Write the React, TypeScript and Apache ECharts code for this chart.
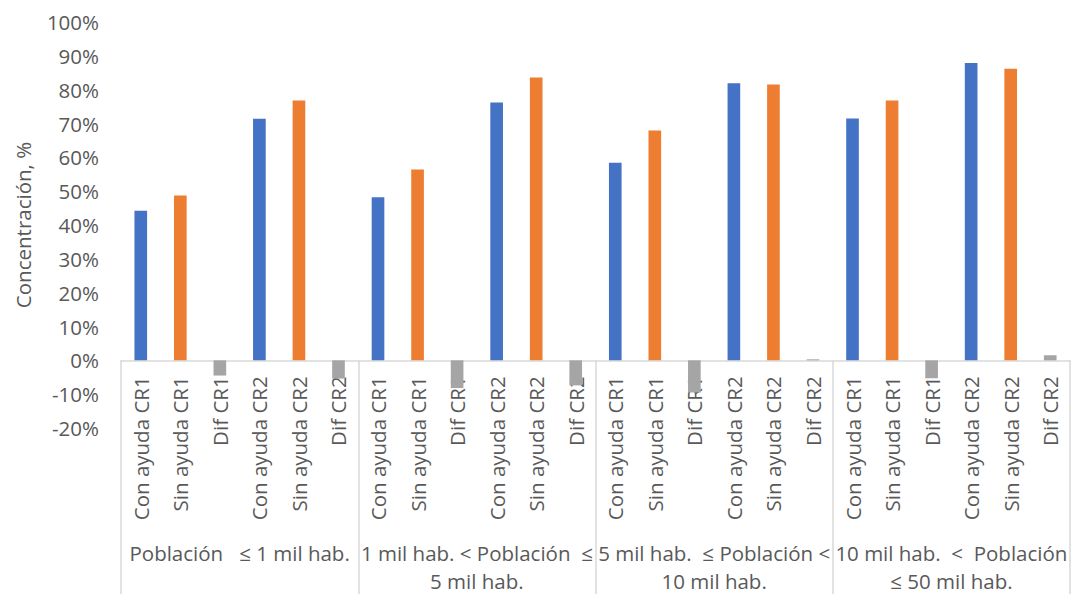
import React, { useEffect, useRef } from "react";
import * as echarts from "echarts";

const groupLabels = [
  "Población   ≤ 1 mil hab.",
  "1 mil hab. < Población  ≤\n5 mil hab.",
  "5 mil hab.  ≤ Población <\n10 mil hab.",
  "10 mil hab.  <  Población\n≤ 50 mil hab.",
];

const subLabels = [
  "Con ayuda CR1",
  "Sin ayuda CR1",
  "Dif CR1",
  "Con ayuda CR2",
  "Sin ayuda CR2",
  "Dif CR2",
];

// values in % per group, ordered as subLabels
const grupo1 = [44.2, 48.7, -4.5, 71.4, 76.8, -5.4];
const grupo2 = [48.2, 56.4, -8.2, 76.2, 83.6, -7.4];
const grupo3 = [58.4, 67.9, -9.5, 81.9, 81.5, 0.3];
const grupo4 = [71.5, 76.8, -5.3, 87.9, 86.2, 1.5];

const yTicks = { min: -20, max: 100, interval: 10 };

const subColors = ["#4472C4", "#ED7D31", "#A5A5A5", "#4472C4", "#ED7D31", "#A5A5A5"];

const FONT = "'Open Sans', sans-serif";
const TXT = "#595959";

const GRID_TOP = 22;
const GRID_BOTTOM = 166;
const CHART_H = 594;

export default function App() {
  const ref = useRef<HTMLDivElement>(null);
  useEffect(() => {
    if (!ref.current) return;
    const chart = echarts.init(ref.current, null, { renderer: "svg" });
    const groups = [grupo1, grupo2, grupo3, grupo4];
    const cats: string[] = [];
    const data: any[] = [];
    groups.forEach((g) => {
      g.forEach((v, i) => {
        cats.push(subLabels[i]);
        data.push({ value: v, itemStyle: { color: subColors[i] } });
      });
    });
    // distance from grid bottom (min) up to the zero line
    const gridH = CHART_H - GRID_TOP - GRID_BOTTOM;
    const zeroOffset = -((0 - yTicks.min) / (yTicks.max - yTicks.min)) * gridH;
    chart.setOption({
      animation: false,
      textStyle: { fontFamily: FONT },
      grid: {
        left: 121,
        right: 2,
        top: GRID_TOP,
        bottom: GRID_BOTTOM,
        containLabel: false,
        outerBoundsMode: "none",
      },
      xAxis: [
        {
          type: "category",
          data: cats,
          position: "bottom",
          offset: zeroOffset,
          axisLine: {
            show: true,
            onZero: false,
            lineStyle: { color: "#D9D9D9", width: 1.5 },
          },
          axisTick: { show: false },
          axisLabel: {
            interval: 0,
            rotate: 90,
            margin: 16,
            color: TXT,
            fontSize: 20.5,
            fontFamily: FONT,
          },
        },
        {
          type: "category",
          data: groupLabels,
          position: "bottom",
          offset: zeroOffset,
          axisLine: { show: false, onZero: false },
          axisTick: { show: true, length: 236, lineStyle: { color: "#D9D9D9", width: 1.5 } },
          axisLabel: {
            interval: 0,
            margin: 178,
            color: TXT,
            fontSize: 20.5,
            lineHeight: 28.5,
            fontFamily: FONT,
            align: "center",
          },
        },
      ],
      yAxis: {
        type: "value",
        min: yTicks.min,
        max: yTicks.max,
        interval: yTicks.interval,
        name: "Concentración, %",
        nameLocation: "middle",
        nameGap: 88,
        nameTextStyle: { color: TXT, fontSize: 20.5, fontFamily: FONT },
        axisLine: { show: false },
        axisTick: { show: false },
        splitLine: { show: false },
        axisLabel: {
          formatter: "{value}%",
          color: TXT,
          fontSize: 20.5,
          fontFamily: FONT,
          margin: 22,
        },
      },
      series: [
        {
          type: "bar",
          xAxisIndex: 0,
          data,
          barWidth: "32%",
        },
      ],
    });
    return () => chart.dispose();
  }, []);
  return (
    <div
      ref={ref}
      style={{ position: "absolute", left: 0, top: 0, width: 1072, height: 594, background: "#fff" }}
    />
  );
}
